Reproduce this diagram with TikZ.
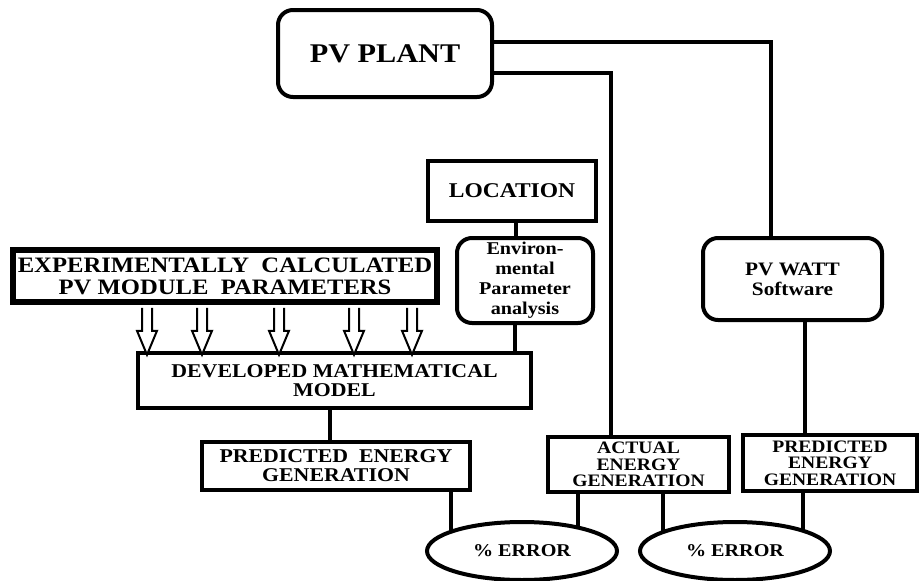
\documentclass[tikz,border=0pt]{standalone}
\usepackage{fontspec}
\setmainfont[FakeStretch=1.12]{Liberation Serif}
\usetikzlibrary{shapes.geometric,calc}
\pgfdeclarelayer{bg}
\pgfsetlayers{bg,main}
\tikzset{
  box/.style={draw, line width=4.5pt, fill=white, inner sep=0pt, align=center, font=\bfseries},
  rbox/.style={box, rounded corners=15pt, line width=4pt},
  errell/.style={draw, ellipse, line width=4pt, fill=white, inner sep=0pt, font=\bfseries\fontsize{18}{18}\selectfont},
  wire/.style={line width=3.5pt},
  hollow/.style={draw, line width=2pt, fill=white, line join=miter}
}
\begin{document}
\begin{tikzpicture}[x=1pt,y=-1pt]
\useasboundingbox (0,0) rectangle (919,581);
\node[rbox, minimum width=214pt, minimum height=87pt, font=\bfseries\fontsize{27}{27}\selectfont] (pv) at (385,53.5) {PV PLANT};
\node[box, minimum width=168pt, minimum height=60pt, font=\bfseries\fontsize{21}{21}\selectfont] (loc) at (512,191) {LOCATION};
\node[rbox, minimum width=136pt, minimum height=85pt, font=\bfseries\fontsize{18}{20}\selectfont] (env) at (525,280.5) {Environ-\\mental\\Parameter\\analysis};
\node[box, line width=5.5pt, minimum width=424pt, minimum height=52pt, font=\bfseries\fontsize{22}{22}\selectfont] (exp) at (225,276) {EXPERIMENTALLY\ \ CALCULATED\\PV MODULE\ \ PARAMETERS};
\node[box, minimum width=393pt, minimum height=55pt, font=\bfseries\fontsize{19.5}{18.5}\selectfont] (dev) at (334.5,380.5) {DEVELOPED MATHEMATICAL\\MODEL};
\node[box, minimum width=268pt, minimum height=48pt, font=\bfseries\fontsize{19.5}{19}\selectfont] (pred1) at (336,466) {PREDICTED\ \ ENERGY\\GENERATION};
\node[box, minimum width=181pt, minimum height=55pt, font=\bfseries\fontsize{17.5}{16.5}\selectfont] (act) at (638.5,464.5) {ACTUAL\\ENERGY\\GENERATION};
\node[box, minimum width=174pt, minimum height=56pt, font=\bfseries\fontsize{17.5}{16.5}\selectfont] (pred2) at (830,463) {PREDICTED\\ENERGY\\GENERATION};
\node[rbox, minimum width=179pt, minimum height=82pt, font=\bfseries\fontsize{19}{20}\selectfont] (watt) at (792.5,279) {PV WATT\\Software};
\node[errell, minimum width=190pt, minimum height=58pt] (err1) at (522,551) {\% ERROR};
\node[errell, minimum width=190pt, minimum height=58pt] (err2) at (735,551) {\% ERROR};
\begin{pgfonlayer}{bg}
\draw[wire] ([yshift=11.5pt]pv.east) -| ([xshift=-21.5pt]watt.north);
\draw[wire] ([yshift=-19.5pt]pv.east) -| ([xshift=-27.5pt]act.north);
\draw[wire] ([xshift=4pt]loc.south) -- ([xshift=4pt]loc.south |- env.north);
\draw[wire] ([xshift=-10pt]env.south) -- ([xshift=-10pt]env.south |- dev.north);
\draw[wire] ([xshift=-4.5pt]dev.south) -- ([xshift=-4.5pt]dev.south |- pred1.north);
\draw[wire] ([xshift=12.5pt]watt.south) -- ([xshift=12.5pt]watt.south |- pred2.north);
\draw[wire] ([xshift=115pt]pred1.south) -- ([xshift=115pt]pred1.south |- err1.center);
\draw[wire] ([xshift=-60.5pt]act.south) -- ([xshift=-60.5pt]act.south |- err1.center);
\draw[wire] ([xshift=24.5pt]act.south) -- ([xshift=24.5pt]act.south |- err2.center);
\draw[wire] ([xshift=-27pt]pred2.south) -- ([xshift=-27pt]pred2.south |- err2.center);
\end{pgfonlayer}
\foreach \ax in {147,202,279,354,412} {
  \draw[hollow] (exp.south -| \ax,0) ++(-5,3) -- ++(0,23) -- ++(-5,0) -- ++(10,24) -- ++(10,-24) -- ++(-5,0) -- ++(0,-23);
}
\end{tikzpicture}
\end{document}
